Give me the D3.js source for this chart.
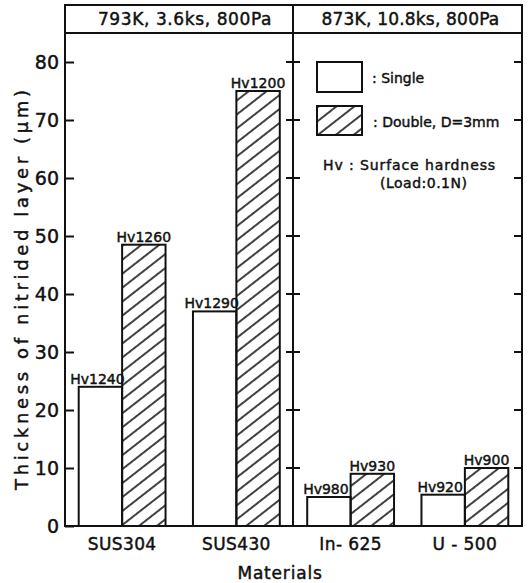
<!DOCTYPE html>
<html>
<head>
<meta charset="utf-8">
<script src="https://cdn.jsdelivr.net/npm/d3@7"></script>
<style>
  body { margin: 0; background: #fff; }
  text { font-family: "DejaVu Sans", sans-serif; fill: #111; stroke: #111; stroke-width: 0.45px; }
</style>
</head>
<body>
<div id="chart"></div>
<script>
// data
const materials = ['SUS304', 'SUS430', 'In-625', 'U-500']
const materialLabels = ['SUS304', 'SUS430', 'In- 625', 'U - 500']
const series = ['Single', 'Double']
const singleValues = [24, 37, 5, 5.4]
const doubleValues = [48.5, 75, 9, 10]
const singleHv = ['Hv1240', 'Hv1290', 'Hv980', 'Hv920']
const doubleHv = ['Hv1260', 'Hv1200', 'Hv930', 'Hv900']
const yTicks = [0, 10, 20, 30, 40, 50, 60, 70, 80]
const conditions = ['793K, 3.6ks, 800Pa', '873K, 10.8ks, 800Pa']

const width = 528
const height = 583
const padLeft = 65, padRight = 522, padTop = 5, headerBottom = 33, baseY = 526
const divider = 293

const svg = d3.select('#chart').append('svg').attr('width', width).attr('height', height)

const defs = svg.append('defs')
defs.append('pattern').attr('id', 'hatch').attr('patternUnits', 'userSpaceOnUse')
  .attr('width', 30).attr('height', 11).attr('patternTransform', 'rotate(-38)')
  .append('line').attr('x1', 0).attr('y1', 5).attr('x2', 30).attr('y2', 5)
  .attr('stroke', '#111').attr('stroke-width', 1.6)

const x0 = d3.scaleBand().domain(materials).range([padLeft, padRight]).paddingInner(0.24).paddingOuter(0.12)
const x1 = d3.scaleBand().domain(series).range([0, x0.bandwidth()])
const y = d3.scaleLinear().domain([0, 80]).range([baseY, 62])

const rows = materials.map((m, i) => [
  { m, s: 'Single', v: singleValues[i], hv: singleHv[i] },
  { m, s: 'Double', v: doubleValues[i], hv: doubleHv[i] }
])

// bars
const g = svg.append('g')
rows.flat().forEach(d => {
  g.append('rect')
    .attr('x', x0(d.m) + x1(d.s))
    .attr('y', y(d.v))
    .attr('width', x1.bandwidth())
    .attr('height', baseY - y(d.v))
    .attr('fill', d.s === 'Double' ? 'url(#hatch)' : '#fff')
    .attr('stroke', '#111').attr('stroke-width', 2)
  g.append('text')
    .attr('x', x0(d.m) + x1(d.s) + x1.bandwidth() / 2 - (d.s === 'Single' ? 3 : 0))
    .attr('y', y(d.v) - 3)
    .attr('text-anchor', 'middle')
    .style('font-size', '14px')
    .text(d.hv)
})

// frame
const frame = svg.append('g').attr('fill', 'none').attr('stroke', '#111').attr('stroke-width', 2)
frame.append('rect').attr('x', padLeft).attr('y', padTop).attr('width', padRight - padLeft).attr('height', baseY - padTop)
frame.append('line').attr('x1', padLeft).attr('x2', padRight).attr('y1', headerBottom).attr('y2', headerBottom)
frame.append('line').attr('x1', divider).attr('x2', divider).attr('y1', padTop).attr('y2', baseY)

// left axis with labels, ticks inward
const yAxis = d3.axisLeft(y).tickValues(yTicks).tickSize(-9).tickPadding(6)
const ax = svg.append('g').attr('transform', `translate(${padLeft},0)`).call(yAxis)
ax.select('.domain').remove()
ax.selectAll('line').attr('stroke', '#111').attr('stroke-width', 2)
ax.selectAll('text').style('font-size', '19px').attr('font-family', null).attr('fill', '#111')

// ticks on divider and right edge
yTicks.filter(t => t > 0).forEach(t => {
  frame.append('line').attr('x1', divider - 7).attr('x2', divider + 7).attr('y1', y(t)).attr('y2', y(t))
  frame.append('line').attr('x1', padRight - 8).attr('x2', padRight).attr('y1', y(t)).attr('y2', y(t))
})

// header conditions
svg.append('text').attr('x', (padLeft + divider) / 2 + 6).attr('y', 25).attr('text-anchor', 'middle')
  .style('font-size', '17px').style('letter-spacing', '0.6px').text(conditions[0])
svg.append('text').attr('x', (divider + padRight) / 2 + 3).attr('y', 25).attr('text-anchor', 'middle')
  .style('font-size', '17px').style('letter-spacing', '0.2px').text(conditions[1])

// category labels
materials.forEach((m, i) => {
  svg.append('text').attr('x', x0(m) + x0.bandwidth() / 2).attr('y', 550).attr('text-anchor', 'middle')
    .style('font-size', '17px').style('letter-spacing', '0.4px').text(materialLabels[i])
})
svg.append('text').attr('x', 280).attr('y', 579).attr('text-anchor', 'middle')
  .style('font-size', '17px').style('letter-spacing', '0.8px').text('Materials')

// y title
svg.append('text').attr('transform', 'translate(28,290) rotate(-90)').attr('text-anchor', 'middle')
  .attr('textLength', 400).attr('lengthAdjust', 'spacing')
  .style('font-size', '18px').text('Thickness of nitrided layer (μm)')

// legend
const lg = svg.append('g')
lg.append('rect').attr('x', 317).attr('y', 62).attr('width', 45).attr('height', 30)
  .attr('fill', '#fff').attr('stroke', '#111').attr('stroke-width', 2)
lg.append('rect').attr('x', 317).attr('y', 106).attr('width', 45).attr('height', 29)
  .attr('fill', 'url(#hatch)').attr('stroke', '#111').attr('stroke-width', 2)
lg.append('text').attr('x', 372).attr('y', 83).style('font-size', '14px').text(': Single')
lg.append('text').attr('x', 373).attr('y', 127).style('font-size', '14px').text(': Double, D=3mm')
lg.append('text').attr('x', 323).attr('y', 170).style('font-size', '14px').style('letter-spacing', '0.9px').text('Hv : Surface hardness')
lg.append('text').attr('x', 380).attr('y', 188).style('font-size', '14px').style('letter-spacing', '0.5px').text('(Load:0.1N)')
</script>
</body>
</html>
